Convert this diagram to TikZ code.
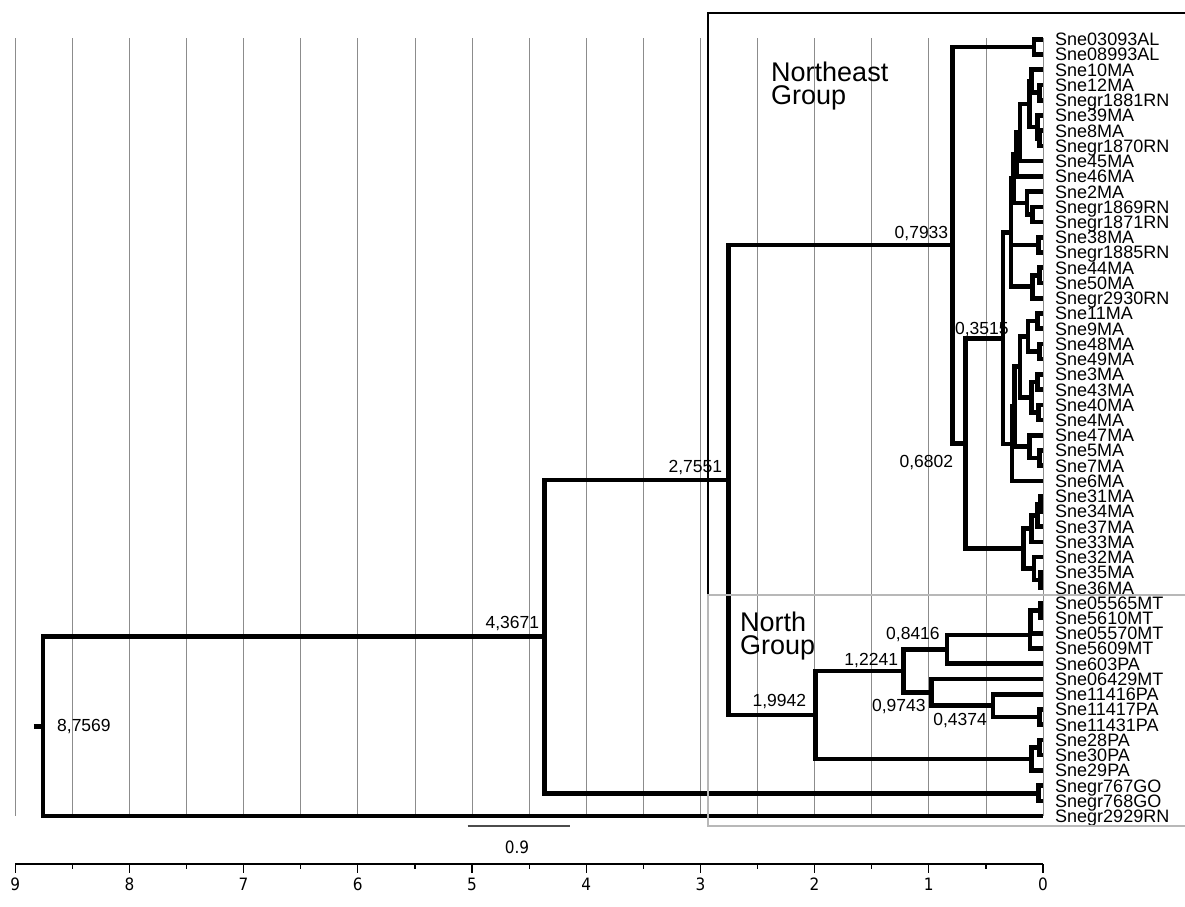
\documentclass[tikz,border=0pt]{standalone}
\usepackage{fontspec}
\setmainfont{Liberation Sans}
\newfontfamily\axisfont[FakeStretch=0.9]{DejaVu Sans}
\usetikzlibrary{calc}
\definecolor{gridgray}{gray}{0.55}
\definecolor{boxgray}{gray}{0.72}
\newcommand{\clade}[4]{%
  \path let \p1=($(#3)!.5!(#4)$) in coordinate (#1) at ({(1043-114.2*#2)*1pt},\y1);
  \draw[branch] (#3) -| (#1) |- (#4);}

\begin{document}
\begin{tikzpicture}[x=1pt, y=-1pt]
\tikzstyle{branch}=[line width=4.6pt]
\tikzstyle{gridline}=[gridgray, line width=0.8pt]
\tikzstyle{leaf}=[anchor=west, inner xsep=12pt, inner ysep=0pt, text height=12.9pt, text depth=0pt, font=\fontsize{18}{18}\selectfont]
\tikzstyle{dist}=[inner sep=0pt, font=\fontsize{17.5}{17.5}\selectfont]
\tikzstyle{grouplab}=[anchor=north west, align=left, inner sep=0pt, font=\fontsize{27}{23.5}\selectfont]
\tikzstyle{ticklab}=[inner sep=0pt, font=\axisfont\fontsize{17}{17}\selectfont]
\useasboundingbox (0,0) rectangle (1185,906);
\foreach \d in {0,0.5,...,9} \draw[gridline] ({1043-114.2*\d},38) -- ({1043-114.2*\d},816);

\foreach \lab [count=\i from 0] in {Sne03093AL,Sne08993AL,Sne10MA,Sne12MA,Snegr1881RN,Sne39MA,Sne8MA,Snegr1870RN,Sne45MA,Sne46MA,Sne2MA,Snegr1869RN,Snegr1871RN,Sne38MA,Snegr1885RN,Sne44MA,Sne50MA,Snegr2930RN,Sne11MA,Sne9MA,Sne48MA,Sne49MA,Sne3MA,Sne43MA,Sne40MA,Sne4MA,Sne47MA,Sne5MA,Sne7MA,Sne6MA,Sne31MA,Sne34MA,Sne37MA,Sne33MA,Sne32MA,Sne35MA,Sne36MA,Sne05565MT,Sne5610MT,Sne05570MT,Sne5609MT,Sne603PA,Sne06429MT,Sne11416PA,Sne11417PA,Sne11431PA,Sne28PA,Sne30PA,Sne29PA,Snegr767GO,Snegr768GO,Snegr2929RN}
  \node[leaf] (l\i) at (1043,{39.3+15.23*\i}) {\lab};

\clade{c01}{0.08}{l0.west}{l1.west}
\clade{c34}{0.03}{l3.west}{l4.west}
\clade{c24}{0.10}{l2.west}{c34}
\clade{c67}{0.03}{l6.west}{l7.west}
\clade{c57}{0.05}{l5.west}{c67}
\clade{c27}{0.12}{c24}{c57}
\clade{c28}{0.20}{c27}{l8.west}
\clade{c29}{0.23}{c28}{l9.west}
\clade{c1112}{0.09}{l11.west}{l12.west}
\clade{c1012}{0.14}{l10.west}{c1112}
\clade{c212}{0.26}{c29}{c1012}
\clade{c1314}{0.04}{l13.west}{l14.west}
\clade{c1516}{0.03}{l15.west}{l16.west}
\clade{c1517}{0.09}{c1516}{l17.west}
\clade{cB}{0.28}{c212}{c1517}
\draw[branch] (cB |- c1314) -- (c1314);
\clade{c1819}{0.05}{l18.west}{l19.west}
\clade{c2021}{0.03}{l20.west}{l21.west}
\clade{c1821}{0.13}{c1819}{c2021}
\clade{c2223}{0.05}{l22.west}{l23.west}
\clade{c2425}{0.04}{l24.west}{l25.west}
\clade{c2225}{0.10}{c2223}{c2425}
\clade{c1825}{0.20}{c1821}{c2225}
\clade{c2728}{0.03}{l27.west}{l28.west}
\clade{c2628}{0.12}{l26.west}{c2728}
\clade{c1828}{0.25}{c1825}{c2628}
\clade{cC}{0.27}{c1828}{l29.west}
\clade{n3515}{0.3515}{cB}{cC}
\clade{c3031}{0.02}{l30.west}{l31.west}
\clade{c3032}{0.05}{c3031}{l32.west}
\clade{c3033}{0.10}{c3032}{l33.west}
\clade{c3536}{0.02}{l35.west}{l36.west}
\clade{c3436}{0.08}{l34.west}{c3536}
\clade{cA}{0.17}{c3033}{c3436}
\clade{n6802}{0.6802}{n3515}{cA}
\clade{n7933}{0.7933}{c01}{n6802}
\clade{c3738}{0.02}{l37.west}{l38.west}
\clade{c3739}{0.11}{c3738}{l39.west}
\clade{c3740}{0.115}{c3739}{l40.west}
\clade{n8416}{0.8416}{c3740}{l41.west}
\clade{c4445}{0.03}{l44.west}{l45.west}
\clade{n4374}{0.4374}{l43.west}{c4445}
\clade{n9743}{0.9743}{l42.west}{n4374}
\clade{n12241}{1.2241}{n8416}{n9743}
\clade{c4647}{0.03}{l46.west}{l47.west}
\clade{c4648}{0.10}{c4647}{l48.west}
\clade{n19942}{1.9942}{n12241}{c4648}
\clade{n27551}{2.7551}{n7933}{n19942}
\clade{c4950}{0.04}{l49.west}{l50.west}
\clade{n43671}{4.3671}{n27551}{c4950}
\clade{nroot}{8.7569}{n43671}{l51.west}
\coordinate (stub) at ([xshift=-9pt]nroot);
\draw[branch] (stub) -- (nroot);

\node[dist, anchor=west] (d87569) at ([xshift=14pt]nroot) {8,7569};
\node[dist, anchor=base east] (d43671) at ([xshift=-5pt,yshift=8.6pt]n43671) {4,3671};
\node[dist, anchor=base east] (d27551) at ([xshift=-6pt,yshift=8pt]n27551) {2,7551};
\node[dist, anchor=base east] (d7933) at ([xshift=-4pt,yshift=7pt]n7933) {0,7933};
\node[dist, anchor=base east] (d3515) at ([xshift=6pt,yshift=4pt]n3515) {0,3515};
\node[dist, anchor=base east] (d6802) at ([xshift=-12pt,yshift=-23.6pt]n6802) {0,6802};
\node[dist, anchor=base east] (d8416) at ([xshift=-7pt,yshift=9.5pt]n8416) {0,8416};
\node[dist, anchor=base east] (d12241) at ([xshift=-5pt,yshift=5pt]n12241) {1,2241};
\node[dist, anchor=base east] (d19942) at ([xshift=-9pt,yshift=8pt]n19942) {1,9942};
\node[dist, anchor=base east] (d9743) at ([xshift=-6pt,yshift=-18.7pt]n9743) {0,9743};
\node[dist, anchor=base east] (d4374) at ([xshift=-6pt,yshift=-19.4pt]n4374) {0,4374};

\coordinate (nebox) at (708,13);
\coordinate (nbox) at (708,595);
\draw[line width=2.5pt] (1190,13) -| (nbox);
\draw[boxgray, line width=2.5pt] (1190,595) -- (nbox) |- (1190,826);
\node[grouplab] (negroup) at (771,61.5) {Northeast\\Group};
\node[grouplab] (ngroup) at (740,611.5) {North\\Group};

\coordinate (bar1) at (467.5,826);
\coordinate (bar2) at (570.3,826);
\draw[black!70, line width=1.5pt] (bar1) -- (bar2);
\node[ticklab] (barlab) at (517,847.5) {0.9};
\coordinate (ax9) at ({1043-114.2*9},864);
\coordinate (ax0) at (1043,864);
\draw[line width=1.5pt] (ax9) -- (ax0);
\foreach \d in {0,...,9} {
  \draw[line width=1.2pt] ({1043-114.2*\d},864) -- ++(0,9);
  \node[ticklab] (t\d) at ({1043-114.2*\d},884) {\d};
}
\foreach \d in {0.5,1.5,...,8.5} \draw[line width=1.2pt] ({1043-114.2*\d},864) -- ++(0,5);
\end{tikzpicture}
\end{document}
